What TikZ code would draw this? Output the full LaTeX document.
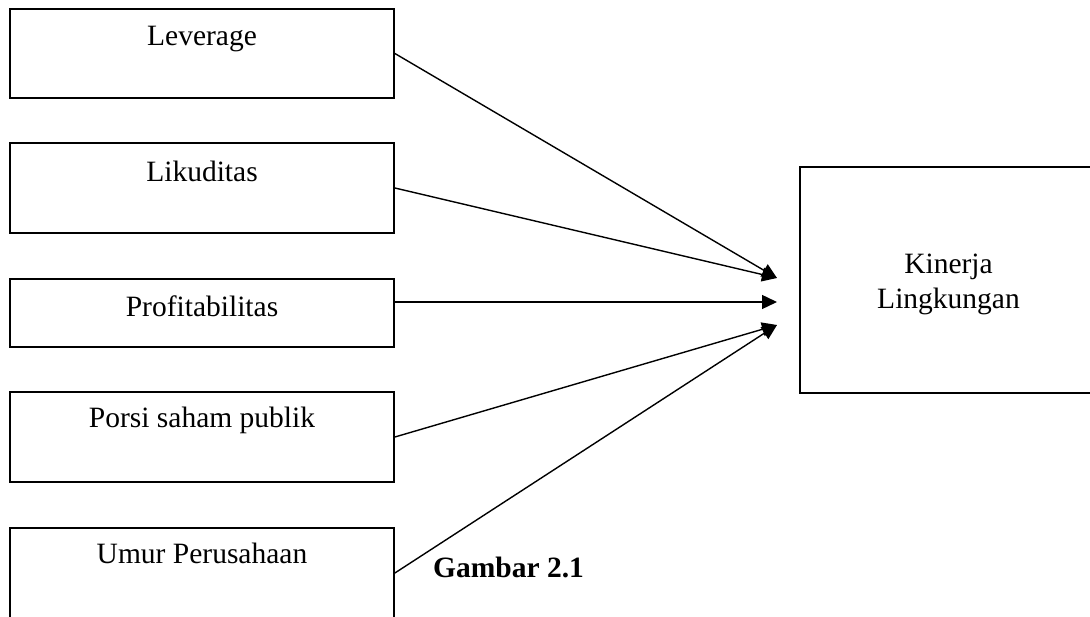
\documentclass[tikz,border=0pt]{standalone}
\usepackage{fontspec}
\setmainfont{Liberation Serif}
\usetikzlibrary{arrows.meta}
\begin{document}
\begin{tikzpicture}[x=1pt,y=-1pt,
  box/.style={draw, line width=1.8pt, inner sep=0pt, minimum width=384pt},
  lbl/.style={inner sep=0pt, font=\fontsize{29.5}{35}\selectfont},
  arr/.style={line width=1.4pt, -{Triangle[length=15pt,width=14pt]}}]
\useasboundingbox (0,0) rectangle (1090,617);
\clip (0,0) rectangle (1090,617);
% left boxes
\node[box, minimum height=89pt] (b1) at (202,53.5) {};
\node[box, minimum height=90pt] (b2) at (202,188) {};
\node[box, minimum height=68pt] (b3) at (202,313) {};
\node[box, minimum height=90pt] (b4) at (202,437) {};
\node[box, minimum height=90pt] (b5) at (202,573) {};
% labels
\node[lbl, anchor=base] (l1) at (202,46) {Leverage};
\node[lbl, anchor=base] (l2) at (202,182) {Likuditas};
\node[lbl, anchor=base] (l3) at (202,317) {Profitabilitas};
\node[lbl, anchor=base] (l4) at (202,428) {Porsi saham publik};
\node[lbl, anchor=base] (l5) at (202,563) {Umur Perusahaan};
% right box
\node[box, minimum width=297pt, minimum height=226pt] (kl) at (948.5,280) {};
\node[lbl, align=center, anchor=north] (klt) at (948.5,253.5) {Kinerja\\Lingkungan};
% caption
\node[lbl, anchor=base west, font=\fontsize{29.5}{35}\selectfont\bfseries] (cap) at (433,577) {Gambar 2.1};
% arrow targets
\coordinate (p1) at (777,278);
\coordinate (p2) at (777,302);
\coordinate (p3) at (777,325);
\draw[arr] (b1.east) -- (p1);
\draw[arr] (b2.east) -- (p1);
\draw[arr] (b3.east |- p2) -- (p2);
\draw[arr] (b4.east) -- (p3);
\draw[arr] (b5.east) -- (p3);
\end{tikzpicture}
\end{document}
